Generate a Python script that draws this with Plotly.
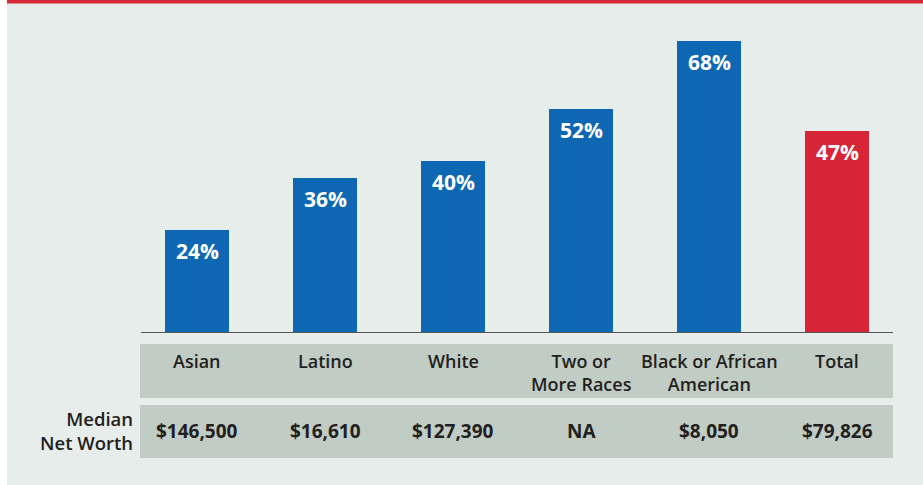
import plotly.graph_objects as go

# Share of households, by race/ethnicity, with median net worth
categories = ["Asian", "Latino", "White", "Two or<br>More Races",
              "Black or African<br>American", "Total"]
share_pct = [24, 36, 40, 52, 68, 47]
median_net_worth = ["$146,500", "$16,610", "$127,390", "NA", "$8,050", "$79,826"]

BLUE = "#0e67b2"
RED = "#d52536"
BG = "#e7edeb"
BOX = "#c1ccc5"
INK = "#231f20"
FONT = "Open Sans"

W, H = 923, 485
L, R, T, B = 133, 22, 30, 152
plot_h = H - T - B
PX_PER_PCT = 4.3


def py(pixel_y):
    """Convert a pixel row to paper y."""
    return (H - B - pixel_y) / plot_h


bar_colors = [RED if c == "Total" else BLUE for c in categories]
xs = list(range(len(categories)))

fig = go.Figure()
fig.add_trace(go.Bar(
    x=xs, y=share_pct, width=0.5,
    marker=dict(color=bar_colors, line=dict(width=0)),
    hoverinfo="skip",
))

annotations = []
# value labels inside the top of each bar
for i, v in enumerate(share_pct):
    annotations.append(dict(
        x=i, y=v, xref="x", yref="y", text=f"{v}%",
        showarrow=False, yanchor="top", yshift=-5,
        font=dict(family=FONT, size=21, color="white", weight=700),
    ))
# category labels
for i, c in enumerate(categories):
    annotations.append(dict(
        x=i, y=py(347), xref="x", yref="paper", text=c,
        showarrow=False, yanchor="top", align="center",
        font=dict(family=FONT, size=18, color=INK, weight=600),
    ))
# median net worth row
for i, m in enumerate(median_net_worth):
    annotations.append(dict(
        x=i, y=py(431), xref="x", yref="paper", text=m,
        showarrow=False, yanchor="middle",
        font=dict(family=FONT, size=19, color=INK, weight=700),
    ))
annotations.append(dict(
    x=(135 - L) / (W - L - R), y=py(430), xref="paper", yref="paper",
    text="Median<br>Net Worth", showarrow=False,
    xanchor="right", yanchor="middle", align="right",
    font=dict(family=FONT, size=18.5, color=INK, weight=600),
))

x0, x1 = -0.5 + 7 / 128, -0.5 + (893 - L) / 128
shapes = [
    # table row backgrounds
    dict(type="rect", xref="x", yref="paper", x0=x0, x1=x1,
         y0=py(344), y1=py(398), fillcolor=BOX, line=dict(width=0), layer="below"),
    dict(type="rect", xref="x", yref="paper", x0=x0, x1=x1,
         y0=py(405), y1=py(458), fillcolor=BOX, line=dict(width=0), layer="below"),
    # baseline
    dict(type="line", xref="x", yref="y", x0=x0 + 1 / 128, x1=x1, y0=0, y1=0,
         line=dict(color="#555555", width=2)),
    # red rule across the top
    dict(type="rect", xref="paper", yref="paper",
         x0=(7 - L) / (W - L - R), x1=(W - L) / (W - L - R),
         y0=py(0), y1=py(3.5), fillcolor=RED, line=dict(width=0)),
    # white strip down the left edge
    dict(type="rect", xref="paper", yref="paper",
         x0=-L / (W - L - R), x1=(7 - L) / (W - L - R),
         y0=py(H), y1=py(0), fillcolor="white", line=dict(width=0), layer="below"),
]

fig.update_layout(
    width=W, height=H,
    margin=dict(l=L, r=R, t=T, b=B),
    paper_bgcolor=BG, plot_bgcolor=BG,
    showlegend=False, bargap=0,
    xaxis=dict(range=[-0.5, len(categories) - 0.5], visible=False, fixedrange=True),
    yaxis=dict(range=[0, plot_h / PX_PER_PCT], visible=False, fixedrange=True),
    annotations=annotations, shapes=shapes,
    font=dict(family=FONT),
)

fig.write_html("out.html", config={"displayModeBar": False})
